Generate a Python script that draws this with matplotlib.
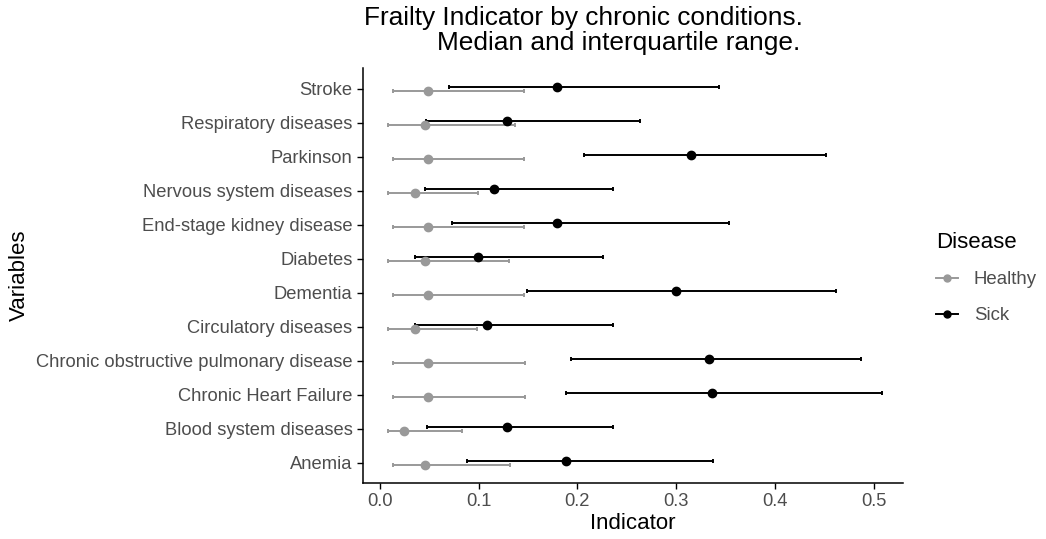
import matplotlib
matplotlib.use("Agg")
import matplotlib.pyplot as plt
from matplotlib.lines import Line2D
import numpy as np

plt.rcParams['font.family'] = ['Liberation Sans', 'DejaVu Sans']

# bottom to top, as in the figure
conditions = ["Anemia", "Blood system diseases", "Chronic Heart Failure",
              "Chronic obstructive pulmonary disease", "Circulatory diseases",
              "Dementia", "Diabetes", "End-stage kidney disease",
              "Nervous system diseases", "Parkinson", "Respiratory diseases",
              "Stroke"]

healthy_q1 = [0.013, 0.008, 0.013, 0.013, 0.008, 0.013, 0.008, 0.013, 0.008, 0.013, 0.008, 0.013]
healthy_med = [0.046, 0.024, 0.049, 0.049, 0.035, 0.049, 0.046, 0.049, 0.035, 0.049, 0.046, 0.049]
healthy_q3 = [0.132, 0.083, 0.147, 0.147, 0.098, 0.146, 0.131, 0.146, 0.099, 0.146, 0.137, 0.146]

sick_q1 = [0.088, 0.048, 0.188, 0.193, 0.035, 0.149, 0.035, 0.073, 0.046, 0.207, 0.047, 0.070]
sick_med = [0.188, 0.129, 0.336, 0.333, 0.108, 0.300, 0.099, 0.179, 0.116, 0.315, 0.129, 0.179]
sick_q3 = [0.337, 0.236, 0.508, 0.487, 0.236, 0.462, 0.226, 0.353, 0.236, 0.452, 0.263, 0.343]

grey = "#999999"
tick_col = "#4D4D4D"

fig = plt.figure(figsize=(10.46, 5.39), dpi=100)
ax = fig.add_axes([0.347, 0.104, 0.516, 0.770])

y = np.arange(1, len(conditions) + 1)
dodge = 0.05

def draw(q1, med, q3, yy, col):
    med = np.array(med)
    err = [med - np.array(q1), np.array(q3) - med]
    ax.errorbar(med, yy, xerr=err, fmt='o', color=col, ecolor=col, ms=6,
                elinewidth=1.4, capsize=1.6, capthick=1.4)

draw(healthy_q1, healthy_med, healthy_q3, y - dodge, grey)
draw(sick_q1, sick_med, sick_q3, y + dodge, "black")

ax.set_xlim(-0.0172, 0.5294)
ax.set_ylim(0.41, 12.62)
ax.set_yticks(y)
ax.set_yticklabels(conditions)
ax.set_xticks([0.0, 0.1, 0.2, 0.3, 0.4, 0.5])
ax.set_xticklabels(["0.0", "0.1", "0.2", "0.3", "0.4", "0.5"])
ax.tick_params(labelcolor=tick_col, labelsize=13.2, length=4, width=1,
               color='black')
for s in ["top", "right"]:
    ax.spines[s].set_visible(False)
for s in ["left", "bottom"]:
    ax.spines[s].set_linewidth(1.1)

ax.set_xlabel("Indicator", fontsize=16)
ax.set_ylabel("Variables", fontsize=16)
ax.xaxis.set_label_coords(0.5, -0.072)
ax.yaxis.set_label_coords(-0.617, 0.5)

fig.text(364 / 1046, 1 - 18 / 539, "Frailty Indicator by chronic conditions.",
         fontsize=18.9, ha='left', va='center')
fig.text(437 / 1046, 1 - 43 / 539, "Median and interquartile range.",
         fontsize=18.9, ha='left', va='center')

handles = [Line2D([], [], color=grey, marker='o', ms=5, lw=1.4),
           Line2D([], [], color='black', marker='o', ms=5, lw=1.4)]
leg = fig.legend(handles, ["Healthy", "Sick"], title="Disease",
                 loc='upper left', bbox_to_anchor=(919 / 1046, 1 - 215 / 539),
                 frameon=False, fontsize=13.4, title_fontsize=16,
                 handlelength=1.2, handletextpad=0.85, labelspacing=1.0)
leg._legend_box.align = "left"
for t in leg.get_texts():
    t.set_color(tick_col)

fig.savefig("out.png", dpi=100)
